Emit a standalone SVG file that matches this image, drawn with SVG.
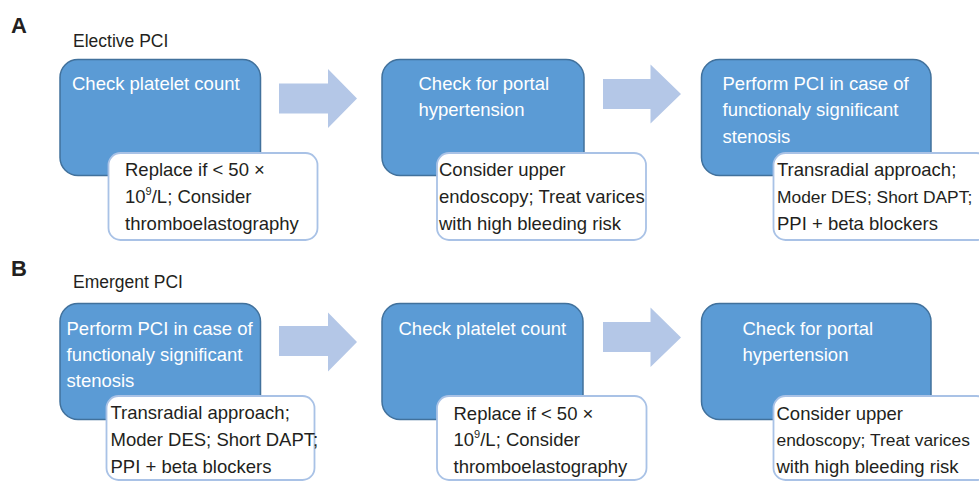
<svg xmlns="http://www.w3.org/2000/svg" width="979" height="481" viewBox="0 0 979 481">
<style>
.bg{fill:#ffffff}
.step{fill:#5b9bd5;stroke:#41719c;stroke-width:1.5}
.note{fill:#ffffff;stroke:#a9c2e6;stroke-width:1.8}
.arrow{fill:#b4c7e7}
.wt{font-family:"Liberation Sans",Arial,sans-serif;font-size:18.5px;fill:#ffffff}
.bt{font-family:"Liberation Sans",Arial,sans-serif;font-size:18.5px;fill:#231f20}
.edge{font-size:17.4px}
.title{font-family:"Liberation Sans",Arial,sans-serif;font-size:17.5px;fill:#231f20}
.panel{font-family:"Liberation Sans",Arial,sans-serif;font-size:22px;font-weight:bold;fill:#231f20}
.sup{font-size:11px}
</style>
<rect class="bg" x="0" y="0" width="979" height="481"/>

<text class="panel" x="11" y="33">A</text>
<text class="title" x="73" y="47">Elective PCI</text>
<text class="panel" x="11" y="276">B</text>
<text class="title" x="73" y="288">Emergent PCI</text>

<g id="connectors">
  <path class="arrow" d="M279,83.5 H328 V69 L357,98.5 L328,128 V113.5 H279 Z"/>
  <path class="arrow" d="M603,79 H650.5 V64.5 L681,94 L650.5,123.5 V109 H603 Z"/>
  <path class="arrow" d="M279,326 H328 V312.5 L357,342 L328,371.5 V356 H279 Z"/>
  <path class="arrow" d="M603,322 H650.5 V307.5 L681,337.5 L650.5,367 V352 H603 Z"/>
</g>

<g id="a1">
  <rect class="step" x="60" y="59.5" width="200.5" height="116" rx="18"/>
  <text class="wt" x="72" y="89.5">Check platelet count</text>
  <rect class="note" x="108.5" y="153" width="209" height="87" rx="12"/>
  <text class="bt" x="125" y="176">Replace if &lt; 50 ×</text>
  <text class="bt" x="125" y="203">10<tspan class="sup" dy="-8">9</tspan><tspan dy="8">/L; Consider</tspan></text>
  <text class="bt" x="125" y="230">thromboelastography</text>
</g>

<g id="a2">
  <rect class="step" x="382" y="59.5" width="202" height="116" rx="18"/>
  <text class="wt" x="418.5" y="89.5">Check for portal</text>
  <text class="wt" x="418.5" y="116">hypertension</text>
  <rect class="note" x="437" y="153" width="209" height="87" rx="12"/>
  <text class="bt" x="439" y="176">Consider upper</text>
  <text class="bt" x="439" y="203">endoscopy; Treat varices</text>
  <text class="bt" x="439" y="229.5">with high bleeding risk</text>
</g>

<g id="a3">
  <rect class="step" x="701.5" y="59.5" width="229.5" height="116" rx="18"/>
  <text class="wt" x="722.5" y="89.5">Perform PCI in case of</text>
  <text class="wt" x="722.5" y="116">functionaly significant</text>
  <text class="wt" x="722.5" y="142.5">stenosis</text>
  <rect class="note" x="773.5" y="153" width="215" height="87" rx="12"/>
  <text class="bt" x="777" y="176">Transradial approach;</text>
  <text class="bt edge" x="777" y="203">Moder DES; Short DAPT;</text>
  <text class="bt" x="777" y="229.5">PPI + beta blockers</text>
</g>

<g id="b1">
  <rect class="step" x="60" y="303.5" width="200.5" height="116" rx="18"/>
  <text class="wt" x="66.5" y="334.5">Perform PCI in case of</text>
  <text class="wt" x="66.5" y="361">functionaly significant</text>
  <text class="wt" x="66.5" y="387">stenosis</text>
  <rect class="note" x="106.5" y="396" width="208" height="84" rx="12"/>
  <text class="bt" x="110.5" y="418.5">Transradial approach;</text>
  <text class="bt" x="110.5" y="445.5">Moder DES; Short DAPT;</text>
  <text class="bt" x="110.5" y="472.5">PPI + beta blockers</text>
</g>

<g id="b2">
  <rect class="step" x="382" y="303.5" width="201" height="116" rx="18"/>
  <text class="wt" x="398.5" y="334.5">Check platelet count</text>
  <rect class="note" x="437" y="396" width="209.5" height="84" rx="12"/>
  <text class="bt" x="453.5" y="419.5">Replace if &lt; 50 ×</text>
  <text class="bt" x="453.5" y="446">10<tspan class="sup" dy="-8">9</tspan><tspan dy="8">/L; Consider</tspan></text>
  <text class="bt" x="453.5" y="472.5">thromboelastography</text>
</g>

<g id="b3">
  <rect class="step" x="701.5" y="303.5" width="229.5" height="116" rx="18"/>
  <text class="wt" x="742.5" y="334.5">Check for portal</text>
  <text class="wt" x="742.5" y="361">hypertension</text>
  <rect class="note" x="773.5" y="396" width="215" height="84" rx="12"/>
  <text class="bt" x="776.5" y="419.5">Consider upper</text>
  <text class="bt edge" x="776.5" y="446">endoscopy; Treat varices</text>
  <text class="bt" x="776.5" y="472.5">with high bleeding risk</text>
</g>
</svg>
